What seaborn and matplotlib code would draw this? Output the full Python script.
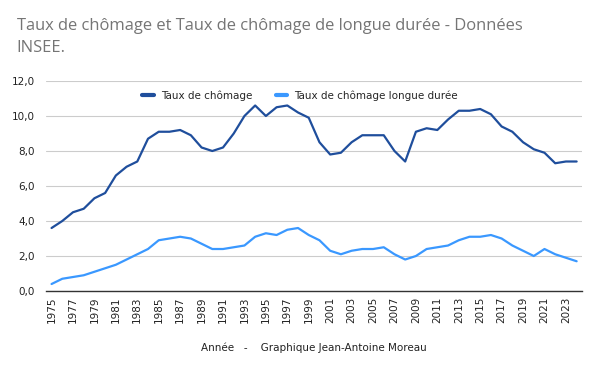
import matplotlib
matplotlib.use("Agg")
import matplotlib.pyplot as plt
import pandas as pd
import seaborn as sns

# Données INSEE
annees = list(range(1975, 2025))
chomage = [3.6, 4.0, 4.5, 4.7, 5.3, 5.6, 6.6, 7.1, 7.4, 8.7,
           9.1, 9.1, 9.2, 8.9, 8.2, 8.0, 8.2, 9.0, 10.0, 10.6,
           10.0, 10.5, 10.6, 10.2, 9.9, 8.5, 7.8, 7.9, 8.5, 8.9,
           8.9, 8.9, 8.0, 7.4, 9.1, 9.3, 9.2, 9.8, 10.3, 10.3,
           10.4, 10.1, 9.4, 9.1, 8.5, 8.1, 7.9, 7.3, 7.4, 7.4]
longue_duree = [0.4, 0.7, 0.8, 0.9, 1.1, 1.3, 1.5, 1.8, 2.1, 2.4,
                2.9, 3.0, 3.1, 3.0, 2.7, 2.4, 2.4, 2.5, 2.6, 3.1,
                3.3, 3.2, 3.5, 3.6, 3.2, 2.9, 2.3, 2.1, 2.3, 2.4,
                2.4, 2.5, 2.1, 1.8, 2.0, 2.4, 2.5, 2.6, 2.9, 3.1,
                3.1, 3.2, 3.0, 2.6, 2.3, 2.0, 2.4, 2.1, 1.9, 1.7]
series = ["Taux de chômage", "Taux de chômage longue durée"]
couleurs = ["#1f4e9c", "#3a98ff"]

df = pd.DataFrame({"Année": annees * 2,
                   "Taux": chomage + longue_duree,
                   "Série": [series[0]] * len(annees) + [series[1]] * len(annees)})

sns.set_style("white")
plt.rcParams['font.family'] = ['DejaVu Sans']

fig = plt.figure(figsize=(6, 3.71), dpi=100)
ax = fig.add_axes([0.077, 0.2156, 0.893, 0.5661])

sns.lineplot(data=df, x="Année", y="Taux", hue="Série", palette=couleurs,
             linewidth=1.6, ax=ax)

ax.set_xlim(1974.5, 2024.5)
ax.set_ylim(0, 12)
ax.set_yticks([0, 2, 4, 6, 8, 10, 12])
ax.set_yticklabels([f"{v:.1f}".replace(".", ",") for v in range(0, 13, 2)])
ax.set_xticks(range(1975, 2025, 2))
ax.set_xticklabels([str(a) for a in range(1975, 2025, 2)], rotation=90)
ax.grid(axis="y", color="#cccccc", linewidth=0.8)
ax.set_axisbelow(True)
for s in ["top", "right", "left"]:
    ax.spines[s].set_visible(False)
ax.spines["bottom"].set_color("#333333")
ax.spines["bottom"].set_linewidth(1)
ax.tick_params(axis="y", length=6, color="#cccccc", labelsize=7.5, labelcolor="#222222", pad=2)
ax.tick_params(axis="x", length=0, labelsize=7.5, labelcolor="#222222", pad=4)

ax.set_ylabel("")
ax.set_xlabel("Année   -    Graphique Jean-Antoine Moreau", fontsize=7.5,
              color="#222222", labelpad=14)

leg = ax.legend(loc="upper center", bbox_to_anchor=(0.474, 1.0), ncol=2, frameon=False,
                fontsize=7.5, handlelength=1.1, handletextpad=0.7, columnspacing=2.2)
for line in leg.get_lines():
    line.set_linewidth(3)

fig.text(0.028, 0.952, "Taux de chômage et Taux de chômage de longue durée - Données\nINSEE.",
         fontsize=11.9, color="#757575", family="Open Sans", va="top", linespacing=1.55)

fig.savefig("out.png", dpi=100, facecolor="white")
